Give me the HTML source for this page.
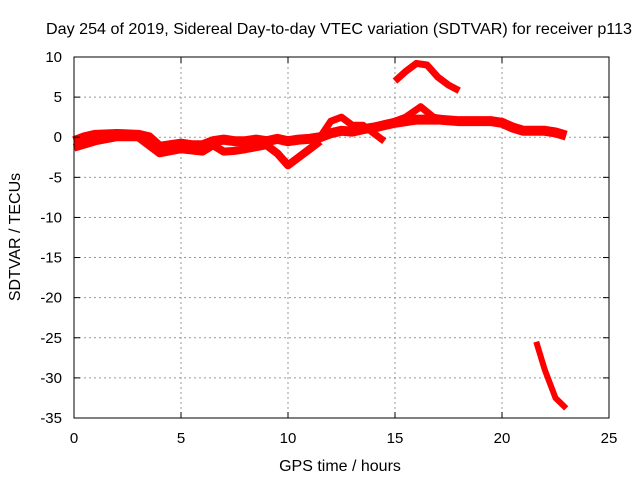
<!DOCTYPE html>
<html><head><meta charset="utf-8"><style>
body{margin:0;background:#fff}
svg text{font-family:"Liberation Sans",sans-serif;font-size:15px;fill:#000}
svg text.big{font-size:16px}
</style></head><body>
<svg width="640" height="480">
<rect width="640" height="480" fill="#fff"/>
<g id="grid"></g>
<g id="series"></g>
<rect x="74" y="57" width="535" height="361" fill="none" stroke="#000" stroke-width="1"/>
<g id="ticks"></g>
<text class="big" x="339" y="34" text-anchor="middle" textLength="586" lengthAdjust="spacingAndGlyphs">Day 254 of 2019, Sidereal Day-to-day VTEC variation (SDTVAR) for receiver p113</text>
<text class="big" x="340" y="471" text-anchor="middle">GPS time / hours</text>
<text class="big" x="0" y="0" transform="translate(20,237) rotate(-90)" text-anchor="middle">SDTVAR / TECUs</text>
</svg>
<script>
const xTicks=[0,5,10,15,20,25];
const yTicks=[10,5,0,-5,-10,-15,-20,-25,-30,-35];
const mainT=[0,0.5,1,2,3,3.5,4,4.5,5,5.5,6,6.5,7,7.5,8,8.5,9,9.5,10,10.5,11,11.5,12,12.5,13,13.5,14,15,16,17,18,19,19.5,20,20.5,21,22,22.5,23];
const mainV=[-0.5,0,0.3,0.4,0.3,0,-1.2,-1,-0.8,-1,-1,-0.5,-0.3,-0.5,-0.5,-0.3,-0.5,-0.2,-0.5,-0.3,-0.2,0,0.5,0.8,0.7,1,1.2,1.8,2.2,2.2,2,2,2,1.8,1.2,0.8,0.8,0.6,0.2];
const lowT=[0,1,2,3,4,5,6,6.5,7,7.5,8,9,9.5,10,10.5,11,11.5];
const lowV=[-1.3,-0.5,0,0,-2,-1.5,-1.8,-1,-1.8,-1.7,-1.5,-1,-2,-3.5,-2.5,-1.5,-0.5];
const loopT=[11.5,12,12.5,13,13.5,14,14.5];
const loopV=[0,2,2.5,1.5,1.5,0.5,-0.5];
const peakT=[14.5,15.5,16.2,16.8,17.5];
const peakV=[1.5,2.5,3.8,2.5,2.2];
const highT=[15,15.5,16,16.5,17,17.5,18];
const highV=[7,8.2,9.2,9,7.5,6.5,5.8];
const dropT=[21.6,22,22.5,23];
const dropV=[-25.5,-29,-32.5,-33.8];
const X=t=>74+t*535/25, Y=v=>57+(10-v)*361/45;
const NS='http://www.w3.org/2000/svg';
const grid=document.getElementById('grid'),ticks=document.getElementById('ticks'),ser=document.getElementById('series');
function mk(tag,at,p){const e=document.createElementNS(NS,tag);for(const k in at)e.setAttribute(k,at[k]);p.appendChild(e);return e;}
xTicks.forEach(t=>{const x=X(t);
 if(t>0&&t<25){const g=mk('line',{x1:x,x2:x,y1:57,y2:418,stroke:'#999','stroke-dasharray':'2,3'},grid);
 
 }
 const l=mk('line',{x1:x,x2:x,y1:418,y2:412,stroke:'#000'},ticks);
 
 
 const l2=mk('line',{x1:x,x2:x,y1:57,y2:63,stroke:'#000'},ticks);
 
 
 const tx=mk('text',{x:x,y:443,'text-anchor':'middle'},ticks);tx.textContent=t;
 
 });
yTicks.forEach(v=>{const y=Y(v);
 if(v<10&&v>-35){const g=mk('line',{x1:74,x2:609,y1:y,y2:y,stroke:'#999','stroke-dasharray':'2,3'},grid);
 
 }
 const l=mk('line',{x1:74,x2:80,y1:y,y2:y,stroke:'#000'},ticks);
 
 
 const l2=mk('line',{x1:603,x2:609,y1:y,y2:y,stroke:'#000'},ticks);
 
 
 const tx=mk('text',{x:62,y:y+5,'text-anchor':'end'},ticks);tx.textContent=v;
 
 });
function draw(T,V,name,w){const pts=T.map((t,i)=>X(t)+','+Y(V[i])).join(' ');
 const p=mk('polyline',{points:pts,fill:'none',stroke:'#f00','stroke-width':w,'stroke-linejoin':'round','stroke-linecap':'butt'},ser);
 
 }
draw(mainT,mainV,'series-main',10);
draw(lowT,lowV,'series-low',8);
draw(loopT,loopV,'series-loop',7);
draw(peakT,peakV,'series-peak',7);
draw(highT,highV,'series-high',7);
draw(dropT,dropV,'series-drop',6);
</script>
</body></html>
